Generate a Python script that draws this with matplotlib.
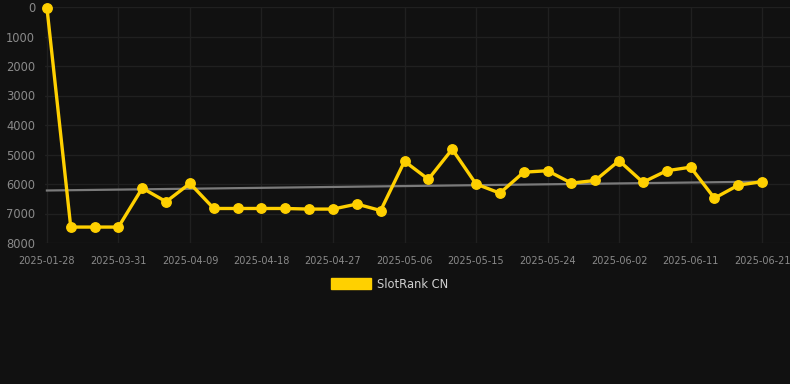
import matplotlib
matplotlib.use("Agg")
import matplotlib.pyplot as plt
import matplotlib.patches as mpatches

dates = ["2025-01-28", "2025-03-25", "2025-03-28", "2025-03-31", "2025-04-03",
         "2025-04-06", "2025-04-09", "2025-04-12", "2025-04-15", "2025-04-18",
         "2025-04-21", "2025-04-24", "2025-04-27", "2025-04-30", "2025-05-03",
         "2025-05-06", "2025-05-09", "2025-05-12", "2025-05-15", "2025-05-18",
         "2025-05-21", "2025-05-24", "2025-05-27", "2025-05-30", "2025-06-02",
         "2025-06-05", "2025-06-08", "2025-06-11", "2025-06-14", "2025-06-17",
         "2025-06-21"]
ranks = [20, 7460, 7460, 7460, 6140, 6600, 5980, 6830, 6830, 6830,
         6830, 6850, 6850, 6680, 6900, 5230, 5840, 4820, 6000, 6310,
         5600, 5550, 5970, 5880, 5210, 5940, 5550, 5430, 6480, 6040,
         5920]
trend = [6220, 5920]
yticks = [0, 1000, 2000, 3000, 4000, 5000, 6000, 7000, 8000]
series_name = "SlotRank CN"

BG = "#111111"
GOLD = "#FFD000"

fig = plt.figure(figsize=(7.9, 3.84), dpi=100, facecolor=BG)
W, H = 790, 384
left, right, top, bottom = 45, 790, 7, 243
ax = fig.add_axes([left / W, 1 - bottom / H, (right - left) / W, (bottom - top) / H])
ax.set_facecolor(BG)

x = list(range(len(ranks)))
ax.plot([0, len(ranks) - 1], trend, color="#7a7a7a", lw=1.6, zorder=2)
ax.plot(x, ranks, color=GOLD, lw=2.4, marker="o", markersize=6.8,
        markerfacecolor=GOLD, markeredgecolor=GOLD, zorder=3, clip_on=False)

ax.set_ylim(8000, 0)
ax.set_xlim(-0.08, 31.17)
ax.set_yticks(yticks)
ax.set_yticklabels([str(v) for v in yticks])
tick_idx = list(range(0, len(dates), 3))
ax.set_xticks(tick_idx)
ax.set_xticklabels([dates[i] for i in tick_idx])

ax.grid(True, color="#202020", lw=1.0)
ax.set_axisbelow(True)
for s in ax.spines.values():
    s.set_visible(False)
ax.tick_params(axis="y", length=0, pad=7, labelsize=8.3, labelcolor="#8a8a8a")
ax.tick_params(axis="x", length=0, pad=9, labelsize=7, labelcolor="#8a8a8a")

handle = mpatches.Patch(facecolor=GOLD, edgecolor=GOLD, label=series_name)
fig.legend(handles=[handle], loc="center", bbox_to_anchor=(390 / W, 1 - 284 / H),
           frameon=False, fontsize=8.3, labelcolor="#d0d0d0",
           handlelength=3.4, handleheight=1.0, handletextpad=0.6)

fig.savefig("out.png", dpi=100, facecolor=BG)
